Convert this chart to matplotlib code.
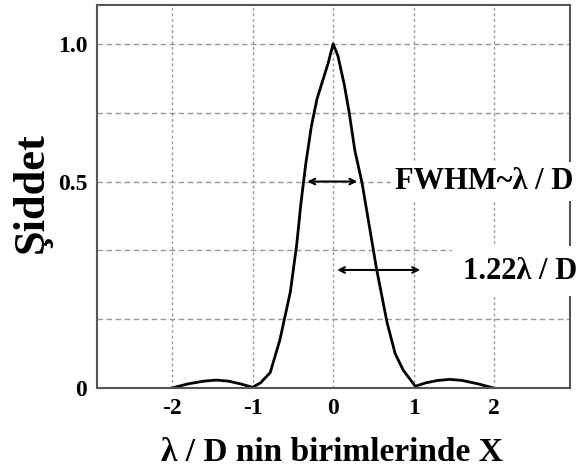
import matplotlib
matplotlib.use('Agg')
import matplotlib.pyplot as plt

# airy profile
x_vals = [-2.0, -1.8, -1.6, -1.45, -1.3, -1.15, -1.0, -0.9, -0.78, -0.66, -0.53,
          -0.45, -0.40, -0.34, -0.27, -0.2, -0.12, -0.06, 0.0, 0.06, 0.14, 0.2,
          0.27, 0.36, 0.45, 0.54, 0.67, 0.77, 0.87, 1.02, 1.15, 1.3, 1.45, 1.6,
          1.8, 1.99]
y_vals = [0.0, 0.012, 0.02, 0.023, 0.02, 0.012, 0.002, 0.015, 0.045, 0.14, 0.28,
          0.42, 0.535, 0.65, 0.76, 0.84, 0.9, 0.945, 1.0, 0.965, 0.88, 0.80,
          0.69, 0.595, 0.47, 0.345, 0.19, 0.10, 0.052, 0.005, 0.015, 0.022, 0.025,
          0.022, 0.012, 0.0]

x_ticks = [-2, -1, 0, 1, 2]
x_labels = ['-2', '-1', '0', '1', '2']
y_ticks = [0, 0.6, 1.0]
y_labels = ['0', '0.5', '1.0']
grid_y = [0.2, 0.4, 0.6, 0.8, 1.0]

fwhm_span = (-0.32, 0.30, 0.6)
airy_span = (0.05, 1.08, 0.343)

plt.rcParams['font.family'] = ['Liberation Serif', 'DejaVu Serif']
plt.rcParams['font.weight'] = 'bold'

fig = plt.figure(figsize=(5.76, 4.74), dpi=100)
ax = fig.add_axes([97/576, 1 - 388/474, 473/576, 383/474])

for gx in x_ticks:
    ax.axvline(gx, color='#999999', lw=1.0, ls=(0, (2, 2)), zorder=1)
for gy in grid_y:
    ax.axhline(gy, color='#999999', lw=1.0, ls=(0, (4, 2.5)), zorder=1)

ax.plot(x_vals, y_vals, color='black', lw=2.0, zorder=2)

ax.annotate('', xy=(fwhm_span[0], fwhm_span[2]), xytext=(fwhm_span[1], fwhm_span[2]),
            arrowprops=dict(arrowstyle='<->', color='black', lw=1.5, shrinkA=0, shrinkB=0))
ax.annotate('', xy=(airy_span[0], airy_span[2]), xytext=(airy_span[1], airy_span[2]),
            arrowprops=dict(arrowstyle='<->', color='black', lw=1.5, shrinkA=0, shrinkB=0))

ax.text(0.77, 0.6, 'FWHM~λ / D', fontsize=22, fontweight='bold', va='center', ha='left',
        clip_on=False, zorder=5,
        bbox=dict(boxstyle='square,pad=0.15', fc='white', ec='none'))
ax.text(1.61, 0.34, '1.22λ / D', fontsize=22, fontweight='bold', va='center', ha='left',
        clip_on=False, zorder=5,
        bbox=dict(boxstyle='square,pad=0.35', fc='white', ec='none'))

ax.set_xlim(-2.93, 2.94)
ax.set_ylim(0, 1.113)
ax.set_xticks(x_ticks)
ax.set_xticklabels(x_labels)
ax.set_yticks(y_ticks)
ax.set_yticklabels(y_labels)
ax.tick_params(length=0, labelsize=17, pad=7)

for s in ax.spines.values():
    s.set_color('#555555')
    s.set_linewidth(1.5)

ax.set_xlabel('λ / D nin birimlerinde X', fontsize=24, fontweight='bold')
ax.set_ylabel('Şiddet', fontsize=32, fontweight='bold')
ax.xaxis.set_label_coords(0.497, -0.128)
ax.yaxis.set_label_coords(-0.095, 0.51)

fig.savefig('out.png', dpi=100)
